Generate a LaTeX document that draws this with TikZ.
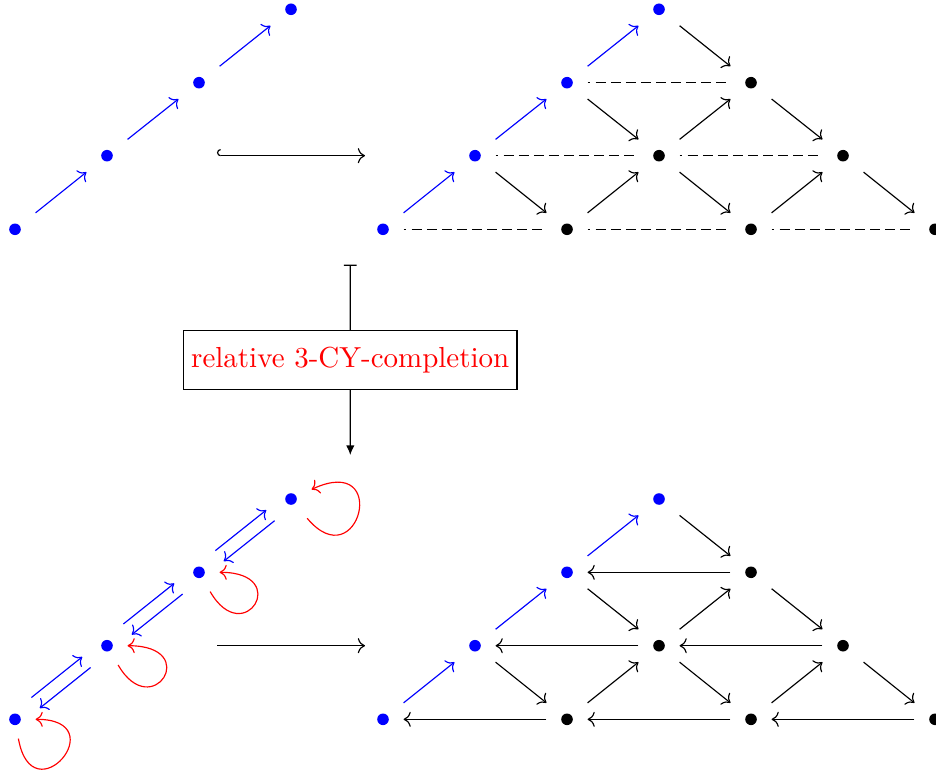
\documentclass[tikz,border=0pt]{standalone}
\usetikzlibrary{arrows.meta}
\begin{document}
\begin{tikzpicture}[x=0.345pt,y=-0.345pt,
  cell/.style={rectangle, minimum width=13.8pt, minimum height=12.9pt, inner sep=0pt},
  ar/.style={-{Computer Modern Rightarrow}},
  bl/.style={ar, blue},
  bk/.style={ar, black},
  dsh/.style={dash pattern=on 3.4pt off 1.8pt, dash phase=2.4pt},
  rl/.style={ar, red},
  sl/.style={transform canvas={shift={(-4.2,-5.3)}}},
  sr/.style={transform canvas={shift={(4.2,5.3)}}},
  lbox/.style={draw, rectangle, minimum width=115.1pt, minimum height=20.1pt, inner sep=0pt, text=red}
]
\useasboundingbox (0,0) rectangle (936,774);

% ---------- top left ----------
\node[cell] (t0) at (15,229.3) {};
\node[cell] (t1) at (107,155.7) {};
\node[cell] (t2) at (199,82.7) {};
\node[cell] (t3) at (291,9.3) {};
\draw[bl] (t0) -- (t1);
\draw[bl] (t1) -- (t2);
\draw[bl] (t2) -- (t3);

% ---------- top right ----------
\node[cell] (p0) at (383,229.3) {};
\node[cell] (p1) at (475,155.7) {};
\node[cell] (p2) at (567,82.7) {};
\node[cell] (p3) at (659,9.3) {};
\node[cell] (q1) at (567,229.3) {};
\node[cell] (q2) at (751,229.3) {};
\node[cell] (q3) at (935,229.3) {};
\node[cell] (r1) at (659,155.7) {};
\node[cell] (r2) at (843,155.7) {};
\node[cell] (s1) at (751,82.7) {};
\draw[bl] (p0) -- (p1);
\draw[bl] (p1) -- (p2);
\draw[bl] (p2) -- (p3);
\draw[bk] (p3) -- (s1);
\draw[bk] (p2) -- (r1);
\draw[bk] (s1) -- (r2);
\draw[bk] (p1) -- (q1);
\draw[bk] (r1) -- (q2);
\draw[bk] (r2) -- (q3);
\draw[bk] (q1) -- (r1);
\draw[bk] (r1) -- (s1);
\draw[bk] (q2) -- (r2);
\draw[dsh] (p2) -- (s1);
\draw[dsh] (p1) -- (r1);
\draw[dsh] (r1) -- (r2);
\draw[dsh] (p0) -- (q1);
\draw[dsh] (q1) -- (q2);
\draw[dsh] (q2) -- (q3);

% hook arrow
\coordinate (h1) at (217,155.7);
\coordinate (h2) at (365,155.7);
\draw[{Hooks[right]}-{Computer Modern Rightarrow}] (h1) -- (h2);

% vertical map
\coordinate (vt) at (350.3,264.7);
\node[lbox] (box) at (350.2,360) {relative 3-CY-completion};
\coordinate (vb) at (350.3,455);
\draw[{Bar[width=4.4pt]}-] (vt) -- (box);
\draw[-{Latex[length=3.3pt,width=2.9pt]}] (box) -- (vb);

% ---------- bottom left ----------
\node[cell] (a0) at (15,719.3) {};
\node[cell] (a1) at (107,645.7) {};
\node[cell] (a2) at (199,572.3) {};
\node[cell] (a3) at (291,499) {};
\foreach \u/\v in {a0/a1,a1/a2,a2/a3}{
  \draw[bl, sl] (\u) -- (\v);
  \draw[bl, sr] (\v) -- (\u);
}
\draw[rl] (a0.-80) .. controls +(13.9,78.8) and +(80,0) .. (a0.east);
\draw[rl] (a1.-60) .. controls +(34,58.9) and +(75,0) .. (a1.east);
\draw[rl] (a2.-60) .. controls +(34,58.9) and +(73,0) .. (a2.east);
\draw[rl] (a3.-50) .. controls +(51.4,61.3) and +(79.7,-37.2) .. (a3.25);

% bottom arrow
\coordinate (g1) at (217,645.7);
\coordinate (g2) at (365,645.7);
\draw[ar] (g1) -- (g2);

% ---------- bottom right ----------
\node[cell] (bp0) at (383,719.3) {};
\node[cell] (bp1) at (475,645.7) {};
\node[cell] (bp2) at (567,572.3) {};
\node[cell] (bp3) at (659,499) {};
\node[cell] (bq1) at (567,719.3) {};
\node[cell] (bq2) at (751,719.3) {};
\node[cell] (bq3) at (935,719.3) {};
\node[cell] (br1) at (659,645.7) {};
\node[cell] (br2) at (843,645.7) {};
\node[cell] (bs1) at (751,572.3) {};
\draw[bl] (bp0) -- (bp1);
\draw[bl] (bp1) -- (bp2);
\draw[bl] (bp2) -- (bp3);
\draw[bk] (bp3) -- (bs1);
\draw[bk] (bp2) -- (br1);
\draw[bk] (bs1) -- (br2);
\draw[bk] (bp1) -- (bq1);
\draw[bk] (br1) -- (bq2);
\draw[bk] (br2) -- (bq3);
\draw[bk] (bq1) -- (br1);
\draw[bk] (br1) -- (bs1);
\draw[bk] (bq2) -- (br2);
\draw[bk] (bs1) -- (bp2);
\draw[bk] (br1) -- (bp1);
\draw[bk] (br2) -- (br1);
\draw[bk] (bq1) -- (bp0);
\draw[bk] (bq2) -- (bq1);
\draw[bk] (bq3) -- (bq2);

% dots
\foreach \n in {t0,t1,t2,t3,p0,p1,p2,p3,a0,a1,a2,a3,bp0,bp1,bp2,bp3}
  \fill[blue] (\n.center) circle (2pt);
\foreach \n in {q1,q2,q3,r1,r2,s1,bq1,bq2,bq3,br1,br2,bs1}
  \fill[black] (\n.center) circle (2pt);
\end{tikzpicture}
\end{document}
